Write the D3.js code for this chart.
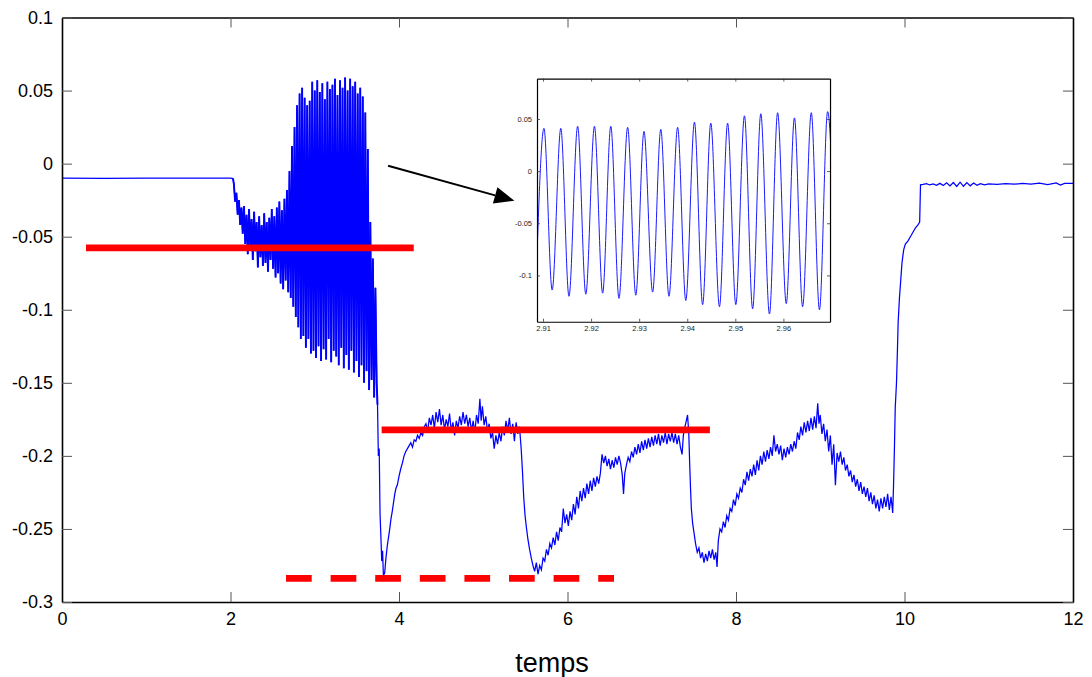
<!DOCTYPE html>
<html><head><meta charset="utf-8">
<script src="https://cdn.jsdelivr.net/npm/d3@7"></script>
<style>body{margin:0;background:#fff}svg{display:block}text{font-family:"Liberation Sans",Arial,sans-serif}</style>
</head><body><svg id="c" width="1092" height="677"></svg>
<script>
// ---------- data ----------
const xTicks = [0,2,4,6,8,10,12];
const yTicks = [-0.3,-0.25,-0.2,-0.15,-0.1,-0.05,0,0.05,0.1];
const yTickLabels = ["-0.3","-0.25","-0.2","-0.15","-0.1","-0.05","0","0.05","0.1"];
const xLabel = "temps";

// main signal: [time, value]
const signal = [
[0,-0.0100],[0.5,-0.0101],[1.0,-0.0099],[1.5,-0.0100],[2.0,-0.0100],[2.03,-0.0102],
[2.040,-0.014],[2.055,-0.026],[2.070,-0.020],[2.085,-0.035],[2.100,-0.025],[2.115,-0.042],[2.130,-0.030],[2.145,-0.048],
[2.160,-0.029],[2.175,-0.055],[2.190,-0.035],[2.205,-0.062],[2.220,-0.031],[2.235,-0.058],[2.250,-0.038],[2.265,-0.066],
[2.280,-0.033],[2.295,-0.060],[2.310,-0.040],[2.325,-0.071],[2.340,-0.036],[2.355,-0.064],[2.370,-0.042],[2.385,-0.070],
[2.400,-0.034],[2.415,-0.068],[2.430,-0.040],[2.445,-0.074],[2.460,-0.037],[2.475,-0.066],[2.490,-0.031],[2.505,-0.072],
[2.520,-0.036],[2.535,-0.078],[2.550,-0.030],[2.565,-0.075],[2.580,-0.026],[2.595,-0.082],[2.610,-0.032],[2.625,-0.086],
[2.640,-0.024],[2.655,-0.080],[2.670,-0.018],[2.685,-0.088],[2.700,-0.005],[2.715,-0.092],[2.730,0.012],[2.745,-0.098],
[2.760,0.025],[2.775,-0.105],[2.790,0.040],[2.805,-0.112],[2.820,0.048],[2.835,-0.120],[2.850,0.052],[2.865,-0.118],
[2.880,0.045],[2.895,-0.126],[2.910,0.040],[2.925,-0.120],[2.940,0.043],[2.955,-0.130],[2.970,0.056],[2.985,-0.128],
[3.000,0.050],[3.015,-0.133],[3.030,0.057],[3.045,-0.125],[3.060,0.049],[3.075,-0.135],[3.090,0.055],[3.105,-0.127],
[3.120,0.044],[3.135,-0.134],[3.150,0.056],[3.165,-0.120],[3.180,0.051],[3.195,-0.136],[3.210,0.054],[3.225,-0.128],
[3.240,0.058],[3.255,-0.132],[3.270,0.047],[3.285,-0.138],[3.300,0.057],[3.315,-0.126],[3.330,0.052],[3.345,-0.140],
[3.360,0.059],[3.375,-0.131],[3.390,0.050],[3.405,-0.141],[3.420,0.058],[3.435,-0.128],[3.450,0.053],[3.465,-0.143],
[3.480,0.056],[3.495,-0.135],[3.510,0.048],[3.525,-0.146],[3.540,0.052],[3.555,-0.138],[3.570,0.046],[3.585,-0.150],
[3.600,0.035],[3.615,-0.142],[3.630,0.010],[3.645,-0.155],[3.660,-0.040],[3.675,-0.148],[3.690,-0.065],[3.705,-0.160],
[3.720,-0.085],[3.735,-0.150],
[3.745,-0.165],[3.755,-0.200],[3.765,-0.195],[3.775,-0.240],[3.785,-0.255],[3.795,-0.272],[3.805,-0.265],[3.815,-0.282],
[3.830,-0.280],[3.845,-0.270],[3.860,-0.262],[3.875,-0.256],[3.890,-0.250],[3.905,-0.243],[3.920,-0.238],[3.935,-0.232],
[3.950,-0.226],[3.965,-0.222],[3.980,-0.220],[4.000,-0.214],[4.020,-0.209],[4.040,-0.205],[4.060,-0.200],[4.080,-0.197],
[4.100,-0.195],[4.120,-0.193],[4.140,-0.191],[4.160,-0.194],[4.180,-0.189],[4.200,-0.190],[4.220,-0.186],[4.240,-0.188],
[4.260,-0.184],[4.280,-0.186],[4.300,-0.180],[4.320,-0.178],[4.340,-0.183],[4.360,-0.174],[4.380,-0.179],[4.400,-0.172],
[4.420,-0.181],[4.440,-0.170],[4.460,-0.177],[4.480,-0.168],[4.500,-0.179],[4.520,-0.172],[4.540,-0.182],[4.560,-0.175],
[4.580,-0.180],[4.600,-0.171],[4.620,-0.183],[4.640,-0.177],[4.660,-0.186],[4.680,-0.176],[4.700,-0.181],[4.720,-0.173],
[4.740,-0.179],[4.760,-0.170],[4.780,-0.178],[4.800,-0.172],[4.820,-0.180],[4.840,-0.174],[4.860,-0.183],[4.880,-0.176],
[4.900,-0.184],[4.920,-0.172],[4.940,-0.178],[4.960,-0.161],[4.975,-0.176],[4.990,-0.166],[5.010,-0.179],[5.030,-0.173],
[5.050,-0.183],[5.070,-0.178],[5.090,-0.188],[5.110,-0.184],[5.130,-0.195],[5.150,-0.186],[5.170,-0.192],[5.190,-0.184],
[5.210,-0.190],[5.230,-0.180],[5.250,-0.186],[5.270,-0.176],[5.290,-0.183],[5.310,-0.174],[5.330,-0.185],[5.350,-0.178],
[5.370,-0.190],[5.390,-0.177],[5.410,-0.185],[5.430,-0.180],[5.450,-0.195],[5.465,-0.210],[5.480,-0.228],[5.495,-0.240],
[5.510,-0.248],[5.530,-0.257],[5.550,-0.264],[5.570,-0.270],[5.590,-0.275],[5.610,-0.279],[5.630,-0.273],[5.650,-0.281],
[5.670,-0.275],[5.690,-0.278],[5.710,-0.270],[5.730,-0.272],[5.750,-0.264],[5.770,-0.268],[5.790,-0.260],[5.810,-0.263],
[5.830,-0.256],[5.850,-0.261],[5.870,-0.252],[5.890,-0.258],[5.910,-0.249],[5.930,-0.252],[5.950,-0.236],[5.970,-0.246],
[5.990,-0.240],[6.010,-0.248],[6.030,-0.238],[6.050,-0.244],[6.070,-0.233],[6.090,-0.240],[6.110,-0.228],[6.130,-0.236],
[6.150,-0.224],[6.170,-0.231],[6.190,-0.222],[6.210,-0.229],[6.230,-0.219],[6.250,-0.226],[6.270,-0.217],[6.290,-0.224],
[6.310,-0.215],[6.330,-0.221],[6.350,-0.214],[6.370,-0.219],[6.390,-0.212],[6.410,-0.199],[6.430,-0.205],[6.450,-0.200],
[6.470,-0.207],[6.490,-0.202],[6.510,-0.209],[6.530,-0.203],[6.550,-0.208],[6.570,-0.201],[6.590,-0.206],[6.610,-0.200],
[6.630,-0.205],[6.650,-0.213],[6.665,-0.226],[6.680,-0.212],[6.700,-0.206],[6.720,-0.201],[6.740,-0.204],[6.760,-0.197],
[6.780,-0.201],[6.800,-0.194],[6.820,-0.199],[6.840,-0.192],[6.860,-0.198],[6.880,-0.190],[6.900,-0.196],[6.920,-0.189],
[6.940,-0.195],[6.960,-0.188],[6.980,-0.194],[7.000,-0.187],[7.020,-0.193],[7.040,-0.186],[7.060,-0.192],[7.080,-0.185],
[7.100,-0.193],[7.120,-0.186],[7.140,-0.191],[7.160,-0.184],[7.180,-0.192],[7.200,-0.185],[7.220,-0.190],[7.240,-0.184],
[7.260,-0.191],[7.280,-0.185],[7.300,-0.192],[7.320,-0.186],[7.340,-0.194],[7.360,-0.199],[7.375,-0.186],[7.390,-0.181],
[7.410,-0.176],[7.425,-0.172],[7.440,-0.185],[7.450,-0.205],[7.460,-0.222],[7.470,-0.236],[7.485,-0.246],[7.500,-0.252],
[7.520,-0.260],[7.540,-0.266],[7.560,-0.263],[7.580,-0.270],[7.600,-0.266],[7.620,-0.273],[7.640,-0.267],[7.660,-0.272],
[7.680,-0.265],[7.700,-0.270],[7.720,-0.264],[7.740,-0.271],[7.760,-0.266],[7.775,-0.276],[7.790,-0.258],[7.810,-0.250],
[7.830,-0.252],[7.850,-0.245],[7.870,-0.249],[7.890,-0.241],[7.910,-0.244],[7.930,-0.236],[7.950,-0.238],[7.970,-0.230],
[7.990,-0.234],[8.010,-0.226],[8.030,-0.229],[8.050,-0.222],[8.070,-0.225],[8.090,-0.216],[8.110,-0.220],[8.130,-0.211],
[8.150,-0.217],[8.170,-0.209],[8.190,-0.214],[8.210,-0.206],[8.230,-0.213],[8.250,-0.203],[8.270,-0.210],[8.290,-0.200],
[8.310,-0.206],[8.330,-0.197],[8.350,-0.204],[8.370,-0.196],[8.390,-0.202],[8.410,-0.194],[8.430,-0.200],[8.450,-0.186],
[8.470,-0.197],[8.490,-0.192],[8.510,-0.199],[8.530,-0.193],[8.550,-0.203],[8.570,-0.195],[8.590,-0.201],[8.610,-0.194],
[8.630,-0.199],[8.650,-0.192],[8.670,-0.197],[8.690,-0.190],[8.710,-0.195],[8.730,-0.184],[8.750,-0.189],[8.770,-0.180],
[8.790,-0.186],[8.810,-0.177],[8.830,-0.184],[8.850,-0.176],[8.870,-0.183],[8.890,-0.174],[8.910,-0.182],[8.930,-0.173],
[8.950,-0.181],[8.970,-0.164],[8.985,-0.178],[9.000,-0.172],[9.020,-0.185],[9.040,-0.178],[9.060,-0.190],[9.080,-0.182],
[9.100,-0.197],[9.120,-0.186],[9.140,-0.206],[9.160,-0.192],[9.180,-0.220],[9.200,-0.198],[9.220,-0.204],[9.240,-0.197],
[9.260,-0.206],[9.280,-0.201],[9.300,-0.210],[9.320,-0.206],[9.340,-0.214],[9.360,-0.210],[9.380,-0.218],[9.400,-0.213],
[9.420,-0.221],[9.440,-0.216],[9.460,-0.224],[9.480,-0.218],[9.500,-0.226],[9.520,-0.221],[9.540,-0.228],[9.560,-0.222],
[9.580,-0.231],[9.600,-0.225],[9.620,-0.233],[9.640,-0.227],[9.660,-0.236],[9.680,-0.230],[9.700,-0.238],[9.720,-0.229],
[9.740,-0.236],[9.760,-0.228],[9.780,-0.235],[9.800,-0.226],[9.820,-0.237],[9.840,-0.228],[9.860,-0.239],[9.870,-0.220],
[9.880,-0.196],[9.890,-0.167],[9.905,-0.150],[9.915,-0.130],[9.925,-0.108],[9.940,-0.092],[9.955,-0.080],[9.970,-0.068],
[9.990,-0.059],[10.010,-0.055],[10.040,-0.053],[10.070,-0.050],[10.100,-0.047],[10.130,-0.044],[10.160,-0.042],[10.180,-0.040],
[10.190,-0.0145],[10.22,-0.0142],[10.26,-0.0137],[10.30,-0.0146],[10.34,-0.0139],[10.38,-0.0148],[10.42,-0.0135],[10.46,-0.0150],
[10.50,-0.0131],[10.54,-0.0153],[10.58,-0.0129],[10.62,-0.0156],[10.66,-0.0127],[10.70,-0.0155],[10.74,-0.0130],[10.78,-0.0152],
[10.82,-0.0133],[10.86,-0.0148],[10.90,-0.0137],[10.95,-0.0145],[11.00,-0.0138],[11.10,-0.0142],[11.20,-0.0137],[11.30,-0.0141],
[11.40,-0.0136],[11.50,-0.0140],[11.60,-0.0134],[11.70,-0.0143],[11.80,-0.0132],[11.85,-0.0146],[11.90,-0.0135],[12.00,-0.0136]
];
// time span of the dense oscillation burst (drawn with a heavier stroke)
const burstSpan = [2.03, 3.745];

// red reference lines (time span, level)
const solidRefs = [ {t0:0.285, t1:4.175, v:-0.0577}, {t0:3.794, t1:7.69, v:-0.1822} ];
const dashedRef = {t0:2.659, t1:6.552, v:-0.2838};

// arrow annotation (main data coordinates)
const arrow = {t0:3.87, v0:-0.0014, t1:5.37, v1:-0.0254};

// inset placement in main data coordinates and inset data
const insetBox = {t0:5.638, t1:9.116, v0:0.0582, v1:-0.1082};
const insetXDomain = [2.90875, 2.9697];
const insetYDomain = [-0.1444, 0.0887];
const insetXTicks = [2.91,2.92,2.93,2.94,2.95,2.96];
const insetYTicks = [-0.1,-0.05,0,0.05];
const insetYTickLabels = ["-0.1","-0.05","0","0.05"];
const insetT = [2.9085,2.9102,2.9119,2.9137,2.9154,2.9172,2.9189,2.9207,2.9224,2.9241,2.9258,2.9276,2.9293,2.9310,
  2.9328,2.9345,2.9362,2.9380,2.9397,2.9415,2.9432,2.9449,2.9467,2.9484,2.9501,2.9519,2.9536,2.9553,2.9571,2.9588,
  2.9606,2.9623,2.9640,2.9658,2.9675,2.9692,2.9710];
const insetV = [-0.116,0.041,-0.114,0.041,-0.120,0.043,-0.118,0.043,-0.117,0.043,-0.122,0.042,-0.119,0.038,
  -0.116,0.040,-0.120,0.042,-0.124,0.047,-0.128,0.046,-0.130,0.046,-0.128,0.053,-0.132,0.055,-0.137,0.056,
  -0.127,0.051,-0.130,0.056,-0.133,0.057,-0.135];

// ---------- drawing ----------
const svg = d3.select("#c");
const L=62, R=1073, T=17.5, B=602;
const x = d3.scaleLinear().domain([0,12]).range([L,R]);
const y = d3.scaleLinear().domain([-0.3,0.1]).range([B,T]);
const line = d3.line().x(d=>x(d[0])).y(d=>y(d[1]));

// main signal
svg.append("path").datum(signal)
  .attr("fill","none").attr("stroke","#0000ff").attr("stroke-width",1.25)
  .attr("d", line);
svg.append("path").datum(signal.filter(d=>d[0]>=burstSpan[0] && d[0]<=burstSpan[1]))
  .attr("fill","none").attr("stroke","#0000ff").attr("stroke-width",1.9)
  .attr("d", line);

// red lines
svg.selectAll(".ref").data(solidRefs).enter().append("line")
  .attr("x1",d=>x(d.t0)).attr("x2",d=>x(d.t1)).attr("y1",d=>y(d.v)).attr("y2",d=>y(d.v))
  .attr("stroke","#ff0000").attr("stroke-width",6.7);
svg.append("line")
  .attr("x1",x(dashedRef.t0)).attr("x2",x(dashedRef.t1)).attr("y1",y(dashedRef.v)).attr("y2",y(dashedRef.v))
  .attr("stroke","#ff0000").attr("stroke-width",6.7).attr("stroke-dasharray","25.7,18.9");

// axes
function styleAxis(g, fs){
  g.select(".domain").attr("stroke","#000").attr("stroke-width",1.6);
  g.selectAll(".tick line").attr("stroke","#555").attr("stroke-width",1);
  g.selectAll(".tick text").attr("fill","#000").style("font-size",fs+"px")
   .style("font-family","'Liberation Sans',Arial,sans-serif");
}
const fmtY = d => yTickLabels[yTicks.indexOf(d)];
svg.append("g").attr("transform",`translate(0,${B})`)
  .call(d3.axisBottom(x).tickValues(xTicks).tickFormat(d=>String(d)).tickSizeInner(-10).tickSizeOuter(0).tickPadding(10))
  .call(g=>styleAxis(g,18));
svg.append("g").attr("transform",`translate(0,${T})`)
  .call(d3.axisTop(x).tickValues(xTicks).tickFormat("").tickSizeInner(-10).tickSizeOuter(0))
  .call(g=>styleAxis(g,18));
svg.append("g").attr("transform",`translate(${L},0)`)
  .call(d3.axisLeft(y).tickValues(yTicks).tickFormat(fmtY).tickSizeInner(-10).tickSizeOuter(0).tickPadding(9))
  .call(g=>styleAxis(g,18));
svg.append("g").attr("transform",`translate(${R},0)`)
  .call(d3.axisRight(y).tickValues(yTicks).tickFormat("").tickSizeInner(-10).tickSizeOuter(0))
  .call(g=>styleAxis(g,18));

svg.append("text").attr("x",552).attr("y",672).attr("text-anchor","middle")
  .style("font-size","27px").attr("fill","#000").text(xLabel);

// arrow
const ax0=x(arrow.t0), ay0=y(arrow.v0), ax1=x(arrow.t1), ay1=y(arrow.v1);
const ang=Math.atan2(ay1-ay0, ax1-ax0), hl=20, hw=8.5;
const bx=ax1-hl*Math.cos(ang), by=ay1-hl*Math.sin(ang);
svg.append("line").attr("x1",ax0).attr("y1",ay0).attr("x2",bx).attr("y2",by)
  .attr("stroke","#000").attr("stroke-width",2);
svg.append("path").attr("fill","#000")
  .attr("d",`M${ax1},${ay1}L${bx+hw*Math.sin(ang)},${by-hw*Math.cos(ang)}L${bx-hw*Math.sin(ang)},${by+hw*Math.cos(ang)}Z`);

// inset
const iL=x(insetBox.t0), iR=x(insetBox.t1), iT=y(insetBox.v0), iB=y(insetBox.v1);
const ix = d3.scaleLinear().domain(insetXDomain).range([iL,iR]);
const iy = d3.scaleLinear().domain(insetYDomain).range([iB,iT]);
svg.append("rect").attr("x",iL).attr("y",iT).attr("width",iR-iL).attr("height",iB-iT).attr("fill","#fff");
svg.append("clipPath").attr("id","ic").append("rect")
  .attr("x",iL).attr("y",iT).attr("width",iR-iL).attr("height",iB-iT);
svg.append("path").datum(insetT.map((t,i)=>[t,insetV[i]]))
  .attr("clip-path","url(#ic)")
  .attr("fill","none").attr("stroke","#1a1aff").attr("stroke-width",1)
  .attr("d", d3.line().x(d=>ix(d[0])).y(d=>iy(d[1])).curve(d3.curveMonotoneX));
function styleInset(g){
  g.select(".domain").attr("stroke","#000").attr("stroke-width",1.2);
  g.selectAll(".tick line").attr("stroke","#333").attr("stroke-width",0.8);
  g.selectAll(".tick text").attr("fill","#222").style("font-size","7.5px")
   .style("font-family","'Liberation Sans',Arial,sans-serif");
}
const ifmtY = d => insetYTickLabels[insetYTicks.indexOf(d)];
svg.append("g").attr("transform",`translate(0,${iB})`)
  .call(d3.axisBottom(ix).tickValues(insetXTicks).tickFormat(d3.format(".2f")).tickSizeInner(-3).tickSizeOuter(0).tickPadding(4))
  .call(styleInset);
svg.append("g").attr("transform",`translate(0,${iT})`)
  .call(d3.axisTop(ix).tickValues(insetXTicks).tickFormat("").tickSizeInner(-3).tickSizeOuter(0))
  .call(styleInset);
svg.append("g").attr("transform",`translate(${iL},0)`)
  .call(d3.axisLeft(iy).tickValues(insetYTicks).tickFormat(ifmtY).tickSizeInner(-3).tickSizeOuter(0).tickPadding(5))
  .call(styleInset);
svg.append("g").attr("transform",`translate(${iR},0)`)
  .call(d3.axisRight(iy).tickValues(insetYTicks).tickFormat("").tickSizeInner(-3).tickSizeOuter(0))
  .call(styleInset);
</script></body></html>
